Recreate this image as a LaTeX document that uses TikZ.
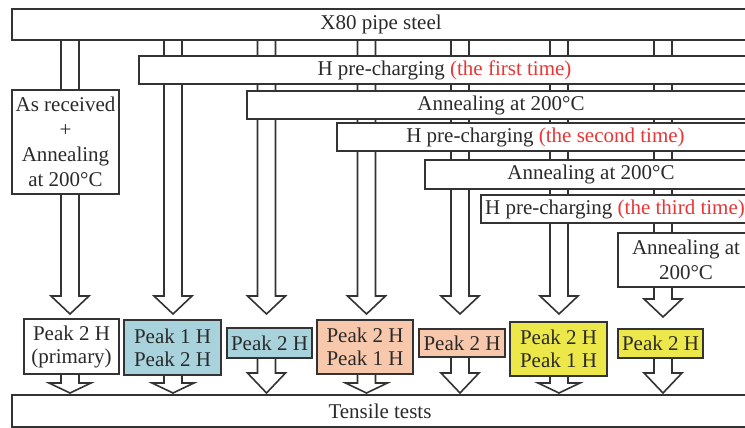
\documentclass[tikz,border=0pt]{standalone}
\usepackage{fontspec}
\setmainfont{Liberation Serif}
\usetikzlibrary{calc,backgrounds}
\definecolor{ln}{HTML}{333333}
\definecolor{txt}{HTML}{2A2A2A}
\definecolor{rd}{HTML}{E83636}
\definecolor{bl}{HTML}{A8D3DC}
\definecolor{sm}{HTML}{F8C8AC}
\definecolor{yl}{HTML}{EDE84A}
\tikzset{
  box/.style={draw=ln, line width=1.6pt, fill=white, inner sep=0pt, text=txt,
    font=\fontsize{21}{24}\selectfont, align=center},
  blk/.style={draw=ln, line width=1.6pt, fill=white, line join=miter},
}
% #1 start point, #2 tip point, #3 head length, #4 head half width
\newcommand\blockarrow[4]{%
  \draw[blk] let \p1=#1, \p2=#2 in
    (\x1-9pt,\y1) -- (\x1-9pt,\y2+#3pt) -- (\x1-#4pt,\y2+#3pt) -- (\x1,\y2)
    -- (\x1+#4pt,\y2+#3pt) -- (\x1+9pt,\y2+#3pt) -- (\x1+9pt,\y1);
}
\begin{document}
\begin{tikzpicture}[x=1pt,y=-1pt]
\clip (0,0) rectangle (745,428);
% column axes
\coordinate (c1) at (70,0);
\coordinate (c2) at (173,0);
\coordinate (c3) at (266.5,0);
\coordinate (c4) at (366.5,0);
\coordinate (c5) at (460,0);
\coordinate (c6) at (559,0);
\coordinate (c7) at (663,0);
\coordinate (tip) at (0,314);
\coordinate (tip7) at (0,317);
\coordinate (stip) at (0,393);

% process boxes
\node[box, minimum width=738pt, minimum height=31pt] (top) at (381,24.5) {X80 pipe steel};
\node[box, minimum width=611pt, minimum height=28pt] (hc1) at (444.5,70) {H pre-charging \textcolor{rd}{(the first time)}};
\node[box, minimum width=508pt, minimum height=28pt] (an1) at (501,105) {Annealing at 200°C};
\node[box, minimum width=417pt, minimum height=28pt] (hc2) at (545.5,137) {H pre-charging \textcolor{rd}{(the second time)}};
\node[box, minimum width=332pt, minimum height=29pt] (an2) at (591,174.5) {Annealing at 200°C};
\node[box, minimum width=268pt, minimum height=28pt] (hc3) at (615,209) {H pre-charging \textcolor{rd}{(the third time)}};
\node[box, minimum width=136pt, minimum height=54pt, font=\fontsize{21}{25}\selectfont] (an3) at (686,260) {Annealing at\\200°C};
\node[box, minimum width=107pt, minimum height=104pt, font=\fontsize{21}{25}\selectfont] (asr) at (65.5,142) {As received\\+\\Annealing\\at 200°C};

% result boxes
\node[box, minimum width=95pt, minimum height=55pt, font=\fontsize{21}{23}\selectfont] (b1) at (71.5,346.5) {Peak 2 H\\(primary)};
\node[box, fill=bl, minimum width=97pt, minimum height=55pt, font=\fontsize{21}{23}\selectfont] (b2) at (172.5,347.5) {Peak 1 H\\Peak 2 H};
\node[box, fill=bl, minimum width=85pt, minimum height=30pt] (b3) at (269.5,343) {Peak 2 H};
\node[box, fill=sm, minimum width=96pt, minimum height=54pt, font=\fontsize{21}{23}\selectfont] (b4) at (365,347) {Peak 2 H\\Peak 1 H};
\node[box, fill=sm, minimum width=86pt, minimum height=28pt] (b5) at (462,343) {Peak 2 H};
\node[box, fill=yl, minimum width=97pt, minimum height=54pt, font=\fontsize{21}{23}\selectfont] (b6) at (558.5,349) {Peak 2 H\\Peak 1 H};
\node[box, fill=yl, minimum width=85pt, minimum height=29pt] (b7) at (660.5,343.5) {Peak 2 H};

\node[box, minimum width=736pt, minimum height=32pt] (tens) at (380,411) {Tensile tests};

\begin{scope}[on background layer]
  \fill[white] (0,0) rectangle (745,428);
  % big arrows from the steel box
  \blockarrow{(c1 |- top.south)}{(c1 |- tip)}{18}{19}
  \blockarrow{(c2 |- top.south)}{(c2 |- tip)}{18}{19}
  \blockarrow{(c3 |- top.south)}{(c3 |- tip)}{18}{19}
  \blockarrow{(c4 |- top.south)}{(c4 |- tip)}{18}{19}
  \blockarrow{(c5 |- top.south)}{(c5 |- tip)}{18}{19}
  \blockarrow{(c6 |- top.south)}{(c6 |- tip)}{18}{19}
  \blockarrow{(c7 |- top.south)}{(c7 |- tip7)}{18}{19}
  % small arrows to the tensile tests
  \blockarrow{(c1 |- b1.south)}{(c1 |- stip)}{10}{21}
  \blockarrow{(c2 |- b2.south)}{(c2 |- stip)}{10}{21}
  \blockarrow{(c3 |- b3.south)}{(c3 |- stip)}{20}{19}
  \blockarrow{(c4 |- b4.south)}{(c4 |- stip)}{10}{21}
  \blockarrow{(c5 |- b5.south)}{(c5 |- stip)}{20}{19}
  \blockarrow{(c6 |- b6.south)}{(c6 |- stip)}{10}{21}
  \blockarrow{(c7 |- b7.south)}{(c7 |- stip)}{20}{19}
\end{scope}
\end{tikzpicture}
\end{document}
